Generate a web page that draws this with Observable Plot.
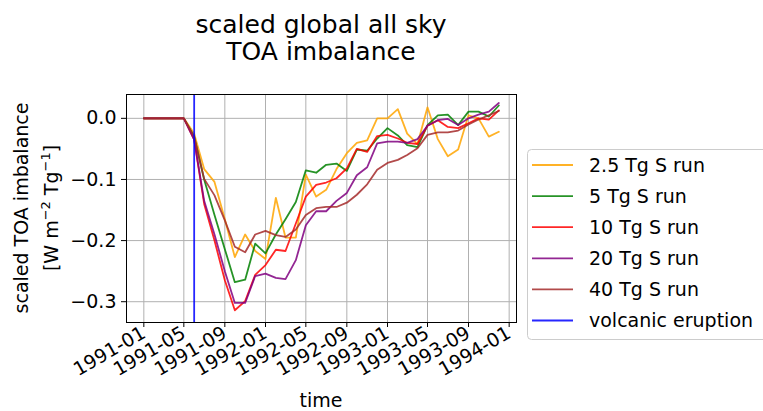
<!DOCTYPE html>
<html><head><meta charset="utf-8">
<script src="https://cdn.jsdelivr.net/npm/d3@7"></script>
<script src="https://cdn.jsdelivr.net/npm/@observablehq/plot@0.6"></script>
<style>
body{margin:0;background:#fff}
#c{position:relative;width:763px;height:411px;overflow:hidden}
</style>
</head><body><div id="c"></div>
<script>
// ---- data ----
const startMonth = "1991-01-01";
const endMonth = "1994-01-01";
const eruptionDate = "1991-06-01";
const seriesNames = ["2.5 Tg S run", "5 Tg S run", "10 Tg S run", "20 Tg S run", "40 Tg S run"];
const seriesColors = ["orange", "green", "red", "purple", "brown"];
const eruptionLabel = "volcanic eruption";
const eruptionColor = "blue";
const run2_5 = [0,0,0,0,0,-0.025,-0.083,-0.104,-0.165,-0.227,-0.19,-0.217,-0.23,-0.13,-0.195,-0.195,-0.092,-0.128,-0.117,-0.083,-0.057,-0.040,-0.036,0.0,0.0,0.015,-0.025,-0.042,0.018,-0.034,-0.062,-0.051,0.005,0.0,-0.03,-0.022];
const run5 = [0,0,0,0,0,-0.03,-0.10,-0.158,-0.214,-0.268,-0.264,-0.205,-0.221,-0.19,-0.165,-0.137,-0.085,-0.089,-0.076,-0.074,-0.086,-0.051,-0.053,-0.033,-0.016,-0.028,-0.044,-0.047,-0.011,0.005,0.006,-0.011,0.011,0.011,0.003,0.021];
const run10 = [0,0,0,0,0,-0.035,-0.14,-0.2,-0.265,-0.314,-0.299,-0.256,-0.24,-0.215,-0.217,-0.172,-0.128,-0.109,-0.105,-0.098,-0.082,-0.05,-0.055,-0.029,-0.027,-0.033,-0.04,-0.042,-0.012,-0.003,-0.014,-0.016,-0.008,0.0,-0.002,0.013];
const run20 = [0,0,0,0,0,-0.035,-0.135,-0.19,-0.25,-0.302,-0.302,-0.258,-0.254,-0.261,-0.263,-0.232,-0.175,-0.152,-0.152,-0.135,-0.122,-0.093,-0.08,-0.041,-0.038,-0.038,-0.04,-0.034,-0.012,-0.003,-0.001,-0.011,0.0,0.006,0.011,0.025];
const run40 = [0,0,0,0,0,-0.03,-0.099,-0.126,-0.167,-0.21,-0.219,-0.19,-0.184,-0.191,-0.194,-0.182,-0.158,-0.147,-0.145,-0.145,-0.138,-0.125,-0.108,-0.084,-0.073,-0.068,-0.06,-0.049,-0.027,-0.023,-0.023,-0.02,-0.01,-0.002,0.005,0.012];
const xTickLabels = ["1991-01","1991-05","1991-09","1992-01","1992-05","1992-09","1993-01","1993-05","1993-09","1994-01"];
const yTicks = [0, -0.1, -0.2, -0.3];
const titleLines = ["scaled global all sky", "TOA imbalance"];
const yLabelLine1 = "scaled TOA imbalance";
const xLabel = "time";

// ---- build ----
const months = d3.utcMonth.range(new Date(startMonth), new Date(endMonth));
const allRuns = [run2_5, run5, run10, run20, run40];
const data = allRuns.flatMap((vals, k) => vals.map((v, i) => ({date: months[i], value: v, series: seriesNames[k]})));
const xTicks = xTickLabels.map(s => new Date(s + "-01"));
const eruption = new Date(eruptionDate);
const FONT = "DejaVu Sans, sans-serif";

const lineMarks = seriesNames.map((name, k) =>
  Plot.line(data.filter(d => d.series === name), {x: "date", y: "value", stroke: seriesColors[k], strokeWidth: 1.8, strokeOpacity: 0.85})
);

const chart = Plot.plot({
  width: 763, height: 411,
  marginLeft: 126, marginRight: 247, marginTop: 94, marginBottom: 89,
  style: {fontFamily: FONT, fontSize: "19px", background: "white", color: "black"},
  x: {type: "utc", domain: [new Date("1990-11-10"), new Date("1994-01-23")]},
  y: {domain: [-0.334, 0.039]},
  marks: [
    Plot.gridX(xTicks, {stroke: "#b0b0b0", strokeOpacity: 1, strokeWidth: 1}),
    Plot.gridY(yTicks, {stroke: "#b0b0b0", strokeOpacity: 1, strokeWidth: 1}),
    ...lineMarks,
    Plot.ruleX([eruption], {stroke: eruptionColor, strokeWidth: 1.8, strokeOpacity: 0.85}),
    Plot.frame({stroke: "black", strokeWidth: 1}),
    Plot.axisX(xTicks, {tickFormat: d3.utcFormat("%Y-%m"), tickRotate: -30, tickSize: 5, tickPadding: 4, fontSize: 19, fontFamily: FONT, label: null}),
    Plot.axisY(yTicks, {tickFormat: d => d === 0 ? "0.0" : d3.format(".1f")(d), tickSize: 5, tickPadding: 5, fontSize: 19, fontFamily: FONT, label: null})
  ]
});
document.getElementById("c").appendChild(chart);

const svg = d3.select(chart);
// title
svg.append("g").attr("font-family", FONT).attr("font-size", 25).attr("text-anchor", "middle").attr("fill", "black")
  .selectAll("text").data(titleLines).join("text")
  .attr("x", 321).attr("y", (d, i) => 33 + i * 27).text(d => d);
// x label
svg.append("text").attr("font-family", FONT).attr("font-size", 19).attr("text-anchor", "middle")
  .attr("x", 321).attr("y", 407).text(xLabel);
// y label
const yl = svg.append("g").attr("font-family", FONT).attr("font-size", 19).attr("text-anchor", "middle")
  .attr("transform", "translate(0,208) rotate(-90)");
yl.append("text").attr("x", 0).attr("y", 28).text(yLabelLine1);
const t2 = yl.append("text").attr("x", 0).attr("y", 58);
t2.append("tspan").text("[W m");
t2.append("tspan").attr("dy", -8).attr("font-size", 13).text("\u22122");
t2.append("tspan").attr("dy", 8).text(" Tg");
t2.append("tspan").attr("dy", -8).attr("font-size", 13).text("\u22121");
t2.append("tspan").attr("dy", 8).text("]");
// legend
const lg = svg.append("g").attr("font-family", FONT).attr("font-size", 19).attr("text-anchor", "start");
lg.append("rect").attr("x", 527.5).attr("y", 149.5).attr("width", 245).attr("height", 190).attr("rx", 4)
  .attr("fill", "white").attr("fill-opacity", 0.8).attr("stroke", "#cccccc");
const entries = seriesNames.map((n, k) => ({name: n, color: seriesColors[k]})).concat([{name: eruptionLabel, color: eruptionColor}]);
const rows = lg.selectAll("g.row").data(entries).join("g").attr("class", "row")
  .attr("transform", (d, i) => `translate(0,${165 + i * 31.1})`);
rows.append("line").attr("x1", 532).attr("x2", 573).attr("y1", 0).attr("y2", 0)
  .attr("stroke", d => d.color).attr("stroke-width", 1.8).attr("stroke-opacity", 0.85);
rows.append("text").attr("x", 589).attr("y", 0).attr("dy", "0.35em").attr("text-anchor", "start").attr("fill", "black").text(d => d.name);
</script></body></html>
